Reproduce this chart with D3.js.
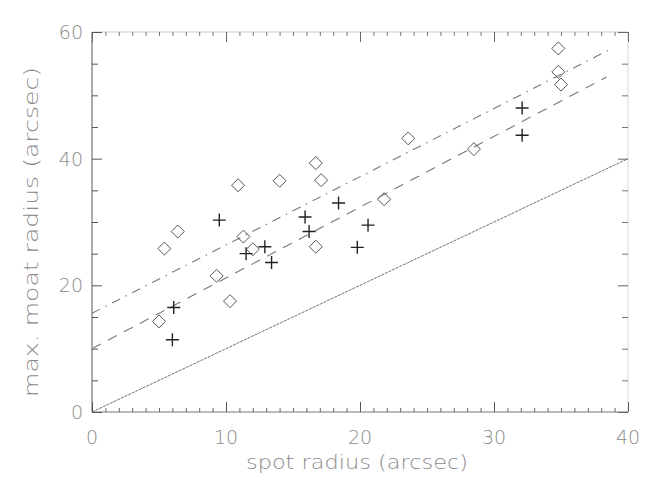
<!DOCTYPE html>
<html><head><meta charset="utf-8">
<script src="https://cdn.jsdelivr.net/npm/d3@7"></script>
<style>
html,body{margin:0;padding:0;background:#fff;}
svg{display:block;}
</style></head>
<body>
<script>
// ---- data ----
const diamondsX = [5.4, 6.4, 5.0, 10.9, 9.3, 10.3, 11.3, 12.0, 14.0, 16.7, 17.1, 16.7, 21.8, 23.6, 28.5, 34.8, 34.8, 35.0];
const diamondsY = [25.8, 28.5, 14.3, 35.8, 21.5, 17.5, 27.7, 25.7, 36.5, 39.3, 36.6, 26.1, 33.6, 43.2, 41.5, 57.4, 53.7, 51.7];
const crossesX = [9.5, 6.0, 6.1, 11.5, 12.9, 13.4, 15.9, 16.2, 18.4, 19.8, 20.6, 32.1, 32.1];
const crossesY = [30.3, 11.4, 16.5, 25.0, 26.1, 23.6, 30.8, 28.5, 33.0, 26.0, 29.5, 48.0, 43.7];
const identityLine = [[0, 0], [40, 40]];
const dashedFit = [[0, 10.0], [38.4, 52.9]];
const dashDotFit = [[0, 15.6], [38.7, 57.3]];
const xTicks = [0, 10, 20, 30, 40];
const yTicks = [0, 20, 40, 60];
const xTitle = "spot radius (arcsec)";
const yTitle = "max. moat radius (arcsec)";

const W = 664, H = 487;
const m = {left: 92, right: 36, top: 32, bottom: 75};
const svg = d3.select("body").append("svg").attr("width", W).attr("height", H);
const x = d3.scaleLinear().domain([0, 40]).range([m.left, W - m.right]);
const y = d3.scaleLinear().domain([0, 60]).range([H - m.bottom, m.top]);

const font = "DejaVu Sans, sans-serif";
const txt = "#8a8a8a";

// frame lines
svg.append("line").attr("x1", x(0)).attr("x2", x(40)).attr("y1", y(60)).attr("y2", y(60)).attr("stroke", "#c8c8c8");
svg.append("line").attr("x1", x(40)).attr("x2", x(40)).attr("y1", y(0)).attr("y2", y(60)).attr("stroke", "#d8d8d8");
svg.append("line").attr("x1", x(0)).attr("x2", x(40)).attr("y1", y(0)).attr("y2", y(0)).attr("stroke", "#777");
svg.append("line").attr("x1", x(0)).attr("x2", x(0)).attr("y1", y(0)).attr("y2", y(60)).attr("stroke", "#555");

function styleAxis(g, col) {
  g.select(".domain").remove();
  g.selectAll(".tick line").attr("stroke", col);
  g.selectAll("text").remove();
}
const xMinor = d3.range(0, 41, 1).filter(v => v % 10 !== 0);
const yMinor = d3.range(0, 61, 5).filter(v => v % 20 !== 0);

// bottom
svg.append("g").attr("transform", `translate(0,${y(0)})`).call(d3.axisBottom(x).tickValues(xTicks).tickSize(-10)).call(g => styleAxis(g, "#555"));
svg.append("g").attr("transform", `translate(0,${y(0)})`).call(d3.axisBottom(x).tickValues(xMinor).tickSize(-4)).call(g => styleAxis(g, "#666"));
// top
svg.append("g").attr("transform", `translate(0,${y(60)})`).call(d3.axisTop(x).tickValues(xTicks).tickSize(-10)).call(g => styleAxis(g, "#666"));
svg.append("g").attr("transform", `translate(0,${y(60)})`).call(d3.axisTop(x).tickValues(xMinor).tickSize(-4)).call(g => styleAxis(g, "#777"));
// left
svg.append("g").attr("transform", `translate(${x(0)},0)`).call(d3.axisLeft(y).tickValues(yTicks).tickSize(-10)).call(g => styleAxis(g, "#555"));
svg.append("g").attr("transform", `translate(${x(0)},0)`).call(d3.axisLeft(y).tickValues(yMinor).tickSize(-6)).call(g => styleAxis(g, "#555"));
// right
svg.append("g").attr("transform", `translate(${x(40)},0)`).call(d3.axisRight(y).tickValues(yTicks).tickSize(-10)).call(g => styleAxis(g, "#666"));
svg.append("g").attr("transform", `translate(${x(40)},0)`).call(d3.axisRight(y).tickValues(yMinor).tickSize(-6)).call(g => styleAxis(g, "#777"));

// tick labels
svg.selectAll(".xl").data(xTicks).enter().append("text")
  .attr("x", d => x(d)).attr("y", y(0) + 32).attr("text-anchor", "middle")
  .attr("font-family", font).attr("font-size", 19).attr("font-weight", 200).attr("fill", txt).text(d => d);
svg.selectAll(".yl").data(yTicks).enter().append("text")
  .attr("x", x(0) - 9).attr("y", d => y(d) + 7).attr("text-anchor", "end")
  .attr("font-family", font).attr("font-size", 19).attr("font-weight", 200).attr("fill", txt).text(d => d);

// titles
svg.append("text").attr("x", (x(0) + x(40)) / 2 - 3).attr("y", 469).attr("text-anchor", "middle")
  .attr("font-family", font).attr("font-size", 19).attr("font-weight", 200).attr("fill", txt)
  .attr("textLength", 222).attr("lengthAdjust", "spacingAndGlyphs").text(xTitle);
svg.append("text").attr("transform", `translate(38,${(y(0) + y(60)) / 2 + 10}) rotate(-90)`).attr("text-anchor", "middle")
  .attr("font-family", font).attr("font-size", 19).attr("font-weight", 200).attr("fill", txt)
  .attr("textLength", 330).attr("lengthAdjust", "spacingAndGlyphs").text(yTitle);

// lines
const line = d3.line().x(d => x(d[0])).y(d => y(d[1]));
svg.append("path").attr("d", line(identityLine)).attr("fill", "none").attr("stroke", "#707070").attr("stroke-width", 1)
  .attr("stroke-dasharray", "3,1");
svg.append("path").attr("d", line(dashedFit)).attr("fill", "none").attr("stroke", "#777").attr("stroke-width", 1.1)
  .attr("stroke-dasharray", "10,8");
svg.append("path").attr("d", line(dashDotFit)).attr("fill", "none").attr("stroke", "#777").attr("stroke-width", 1.1)
  .attr("stroke-dasharray", "9,6,1.5,6");

// diamonds
const r = 6.5;
svg.selectAll(".dia").data(diamondsX.map((v, i) => [v, diamondsY[i]])).enter().append("path")
  .attr("d", d => `M${x(d[0])},${y(d[1]) - r}L${x(d[0]) + r},${y(d[1])}L${x(d[0])},${y(d[1]) + r}L${x(d[0]) - r},${y(d[1])}Z`)
  .attr("fill", "none").attr("stroke", "#555").attr("stroke-width", 1);

// crosses
const c = 6.5;
svg.selectAll(".crs").data(crossesX.map((v, i) => [v, crossesY[i]])).enter().append("path")
  .attr("d", d => `M${x(d[0]) - c},${y(d[1])}H${x(d[0]) + c}M${x(d[0])},${y(d[1]) - c}V${y(d[1]) + c}`)
  .attr("fill", "none").attr("stroke", "#222").attr("stroke-width", 1.4);
</script>
</body></html>
